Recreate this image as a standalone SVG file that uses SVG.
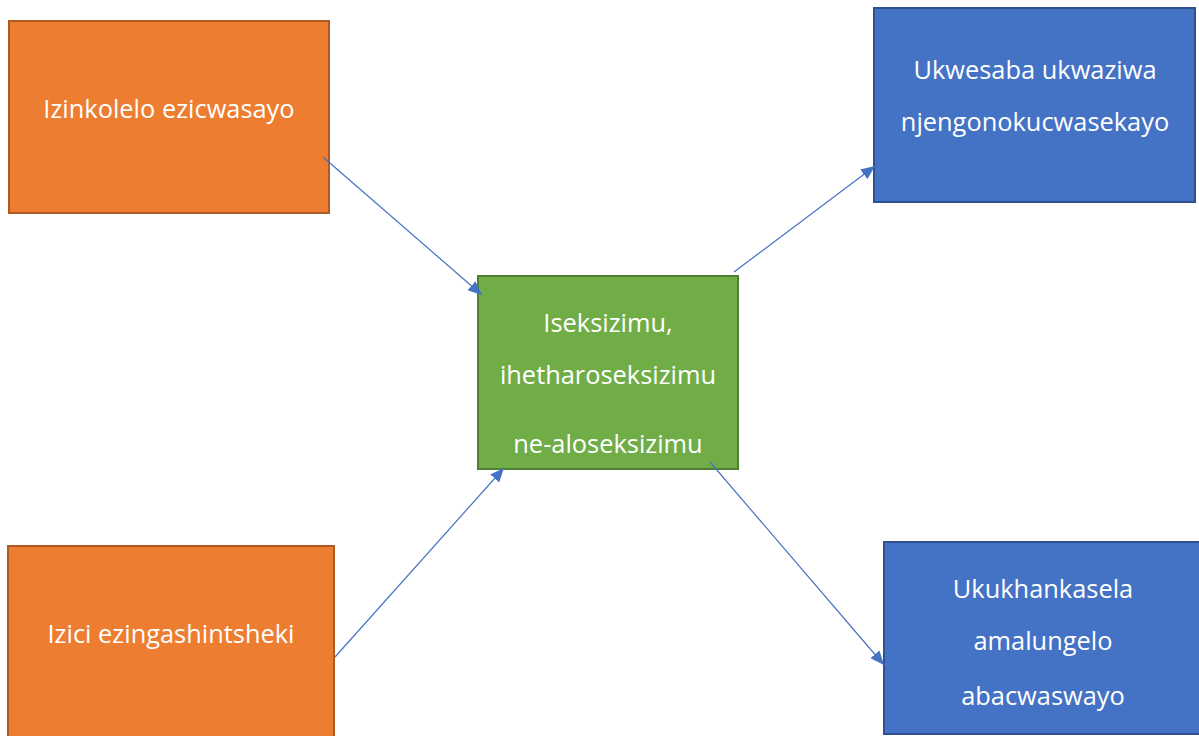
<svg xmlns="http://www.w3.org/2000/svg" width="1199" height="736" viewBox="0 0 1199 736">
<defs>
<style>
.o{fill:#ED7D31;stroke:#AE5A21;stroke-width:2}
.b{fill:#4472C4;stroke:#2F528F;stroke-width:2}
.g{fill:#70AD47;stroke:#507E32;stroke-width:2}
.t{font-family:"Open Sans","Liberation Sans",sans-serif;font-size:25.4px;fill:#fff;text-anchor:middle}
.c{stroke:#4472C4;stroke-width:1.2;fill:none;marker-end:url(#a)}
</style>
<marker id="a" viewBox="0 0 14 12" refX="14" refY="6" markerWidth="14" markerHeight="12" markerUnits="userSpaceOnUse" orient="auto"><path d="M0,0L14,6L0,12z" fill="#4472C4"/></marker>
</defs>
<rect width="1199" height="736" fill="#fff"/>
<g id="n1"><rect class="o" x="9" y="21" width="320" height="192"/><text class="t" x="169" y="118">Izinkolelo ezicwasayo</text></g>
<g id="n2"><rect class="b" x="874" y="8" width="321" height="194"/><text class="t" x="1035" y="79">Ukwesaba ukwaziwa</text><text class="t" x="1035" y="131">njengonokucwasekayo</text></g>
<g id="n3"><rect class="g" x="478" y="276" width="260" height="193"/><text class="t" x="608" y="332">Iseksizimu,</text><text class="t" x="608" y="384">ihetharoseksizimu</text><text class="t" x="608" y="453">ne-aloseksizimu</text></g>
<g id="n4"><rect class="o" x="8" y="546" width="326" height="200"/><text class="t" x="171" y="643">Izici ezingashintsheki</text></g>
<g id="n5"><rect class="b" x="884" y="542" width="320" height="192"/><text class="t" x="1043" y="598">Ukukhankasela</text><text class="t" x="1043" y="650">amalungelo</text><text class="t" x="1043" y="705">abacwaswayo</text></g>
<g id="connectors">
<line class="c" x1="323" y1="157" x2="482" y2="295"/>
<line class="c" x1="335" y1="657" x2="504" y2="468"/>
<line class="c" x1="734" y1="272" x2="875" y2="166"/>
<line class="c" x1="710" y1="462" x2="884" y2="665"/>
</g>
</svg>
